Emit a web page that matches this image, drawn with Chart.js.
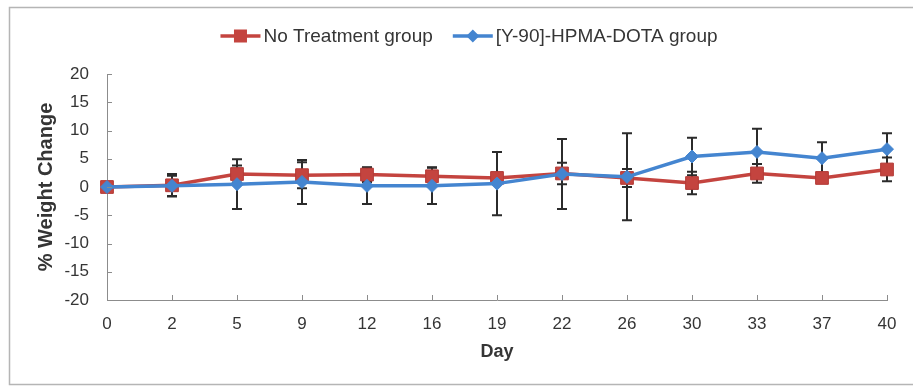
<!DOCTYPE html>
<html>
<head>
<meta charset="utf-8">
<script src="https://cdn.jsdelivr.net/npm/chart.js@4"></script>
<style>
  html, body { margin: 0; padding: 0; background: #fff; }
  #wrap { width: 913px; height: 387px; position: relative; }
</style>
</head>
<body>
<div id="wrap"><canvas id="chart" width="913" height="387"></canvas></div>
<script>
const days = ['0', '2', '5', '9', '12', '16', '19', '22', '26', '30', '33', '37', '40'];

const noTreatment = [0, 0.3, 2.3, 2.1, 2.2, 1.9, 1.6, 2.4, 1.6, 0.7, 2.4, 1.6, 3.1];
const noTreatmentErr = [0, 2.0, 1.5, 2.3, 1.3, 1.6, 0.8, 1.9, 1.6, 2.0, 1.65, 0.8, 2.1];

const y90 = [0, 0.2, 0.5, 0.9, 0.2, 0.2, 0.6, 2.3, 1.8, 5.4, 6.2, 5.1, 6.7];
const y90Err = [0, 1.8, 4.4, 3.9, 3.2, 3.2, 5.6, 6.2, 7.7, 3.3, 4.1, 2.8, 2.8];

const yTicks = [-20, -15, -10, -5, 0, 5, 10, 15, 20];

const RED = '#c4443f';
const BLUE = '#4485d0';
const TEXT = '#353535';
const AXIS = '#8c8c8c';
const FONT = '"Liberation Sans", Arial, sans-serif';

// frame round the whole chart
const framePlugin = {
    id: 'frame',
    beforeDraw(chart) {
        const ctx = chart.ctx;
        ctx.save();
        ctx.strokeStyle = '#b5b5b5';
        ctx.lineWidth = 1.5;
        ctx.strokeRect(9.5, 7.5, 920, 377);
        ctx.restore();
    }
};

// short tick marks pointing into the plot
const innerTicks = {
    id: 'innerTicks',
    afterDraw(chart) {
        const { ctx, scales: { x, y } } = chart;
        ctx.save();
        ctx.strokeStyle = AXIS;
        ctx.lineWidth = 1;
        x.ticks.forEach((t, i) => {
            const px = Math.round(x.getPixelForTick(i)) + 0.5;
            ctx.beginPath(); ctx.moveTo(px, y.bottom); ctx.lineTo(px, y.bottom - 5); ctx.stroke();
        });
        y.ticks.forEach((t, i) => {
            const py = Math.round(y.getPixelForTick(i)) + 0.5;
            ctx.beginPath(); ctx.moveTo(x.left, py); ctx.lineTo(x.left + 5, py); ctx.stroke();
        });
        ctx.restore();
    }
};

// error bars, drawn under the lines and markers
const errorBars = {
    id: 'errorBars',
    beforeDatasetsDraw(chart) {
        const ctx = chart.ctx;
        const yScale = chart.scales.y;
        ctx.save();
        ctx.strokeStyle = '#2b2b2b';
        ctx.lineWidth = 2;
        chart.data.datasets.forEach((ds, di) => {
            const meta = chart.getDatasetMeta(di);
            meta.data.forEach((pt, i) => {
                const e = ds.errors[i];
                if (!e) return;
                const top = yScale.getPixelForValue(ds.data[i] + e);
                const bot = yScale.getPixelForValue(ds.data[i] - e);
                ctx.beginPath();
                ctx.moveTo(pt.x, top); ctx.lineTo(pt.x, bot);
                ctx.moveTo(pt.x - 5, top); ctx.lineTo(pt.x + 5, top);
                ctx.moveTo(pt.x - 5, bot); ctx.lineTo(pt.x + 5, bot);
                ctx.stroke();
            });
        });
        ctx.restore();
    }
};

// legend with line + marker swatches, centred at the top
const lineLegend = {
    id: 'lineLegend',
    afterDraw(chart) {
        const ctx = chart.ctx;
        const dsets = chart.data.datasets;
        ctx.save();
        ctx.font = '19px ' + FONT;
        ctx.textBaseline = 'middle';
        const swatch = 40, gap = 3, spacing = 20;
        const widths = dsets.map(d => swatch + gap + ctx.measureText(d.label).width);
        const total = widths.reduce((a, b) => a + b, 0) + spacing * (dsets.length - 1);
        let x = 469 - total / 2;
        const y = 36;
        dsets.forEach((d, i) => {
            ctx.strokeStyle = d.borderColor;
            ctx.lineWidth = 3.5;
            ctx.beginPath(); ctx.moveTo(x, y); ctx.lineTo(x + swatch, y); ctx.stroke();
            ctx.fillStyle = d.borderColor;
            const cx = x + swatch / 2;
            if (d.pointStyle === 'rect') {
                ctx.fillRect(cx - 6.5, y - 6.5, 13, 13);
            } else {
                ctx.beginPath();
                ctx.moveTo(cx, y - 6.5); ctx.lineTo(cx + 6.5, y); ctx.lineTo(cx, y + 6.5); ctx.lineTo(cx - 6.5, y);
                ctx.closePath(); ctx.fill();
            }
            ctx.fillStyle = TEXT;
            ctx.fillText(d.label, x + swatch + gap, y + 1);
            x += widths[i] + spacing;
        });
        ctx.restore();
    }
};

new Chart(document.getElementById('chart'), {
    type: 'line',
    data: {
        labels: days,
        datasets: [
            {
                label: 'No Treatment group',
                data: noTreatment,
                errors: noTreatmentErr,
                borderColor: RED,
                backgroundColor: RED,
                borderWidth: 3.5,
                pointStyle: 'rect',
                pointRadius: 9,
                pointBorderWidth: 1,
                pointBorderColor: '#b33a36',
                tension: 0,
                order: 1
            },
            {
                label: '[Y-90]-HPMA-DOTA group',
                data: y90,
                errors: y90Err,
                borderColor: BLUE,
                backgroundColor: BLUE,
                borderWidth: 3.5,
                pointStyle: 'rectRot',
                pointRadius: 6.5,
                pointBorderWidth: 1,
                tension: 0,
                order: 0
            }
        ]
    },
    options: {
        responsive: false,
        animation: false,
        layout: { padding: { top: 74, right: 26, left: 0, bottom: 0 } },
        plugins: {
            legend: { display: false },
            tooltip: { enabled: false }
        },
        scales: {
            x: {
                grid: { display: false, drawTicks: false },
                border: { display: true, color: AXIS, width: 1 },
                ticks: {
                    color: TEXT,
                    font: { family: FONT, size: 17 },
                    padding: 14,
                    maxRotation: 0,
                    autoSkip: false
                },
                title: {
                    display: true,
                    text: 'Day',
                    color: TEXT,
                    font: { family: FONT, size: 18, weight: 'bold' },
                    padding: { top: 4, bottom: 24 }
                },
                afterFit: s => { s.height = 87; }
            },
            y: {
                min: -20,
                max: 20,
                grid: { display: false, drawTicks: false },
                border: { display: true, color: AXIS, width: 1 },
                afterBuildTicks: s => { s.ticks = yTicks.map(v => ({ value: v })); },
                ticks: {
                    color: TEXT,
                    font: { family: FONT, size: 17 },
                    padding: 18
                },
                title: {
                    display: true,
                    text: '% Weight Change',
                    color: TEXT,
                    font: { family: FONT, size: 20, weight: 'bold' },
                    padding: { top: 34, bottom: 4 }
                },
                afterFit: s => { s.width = 107; }
            }
        }
    },
    plugins: [framePlugin, errorBars, innerTicks, lineLegend]
});
</script>
</body>
</html>
